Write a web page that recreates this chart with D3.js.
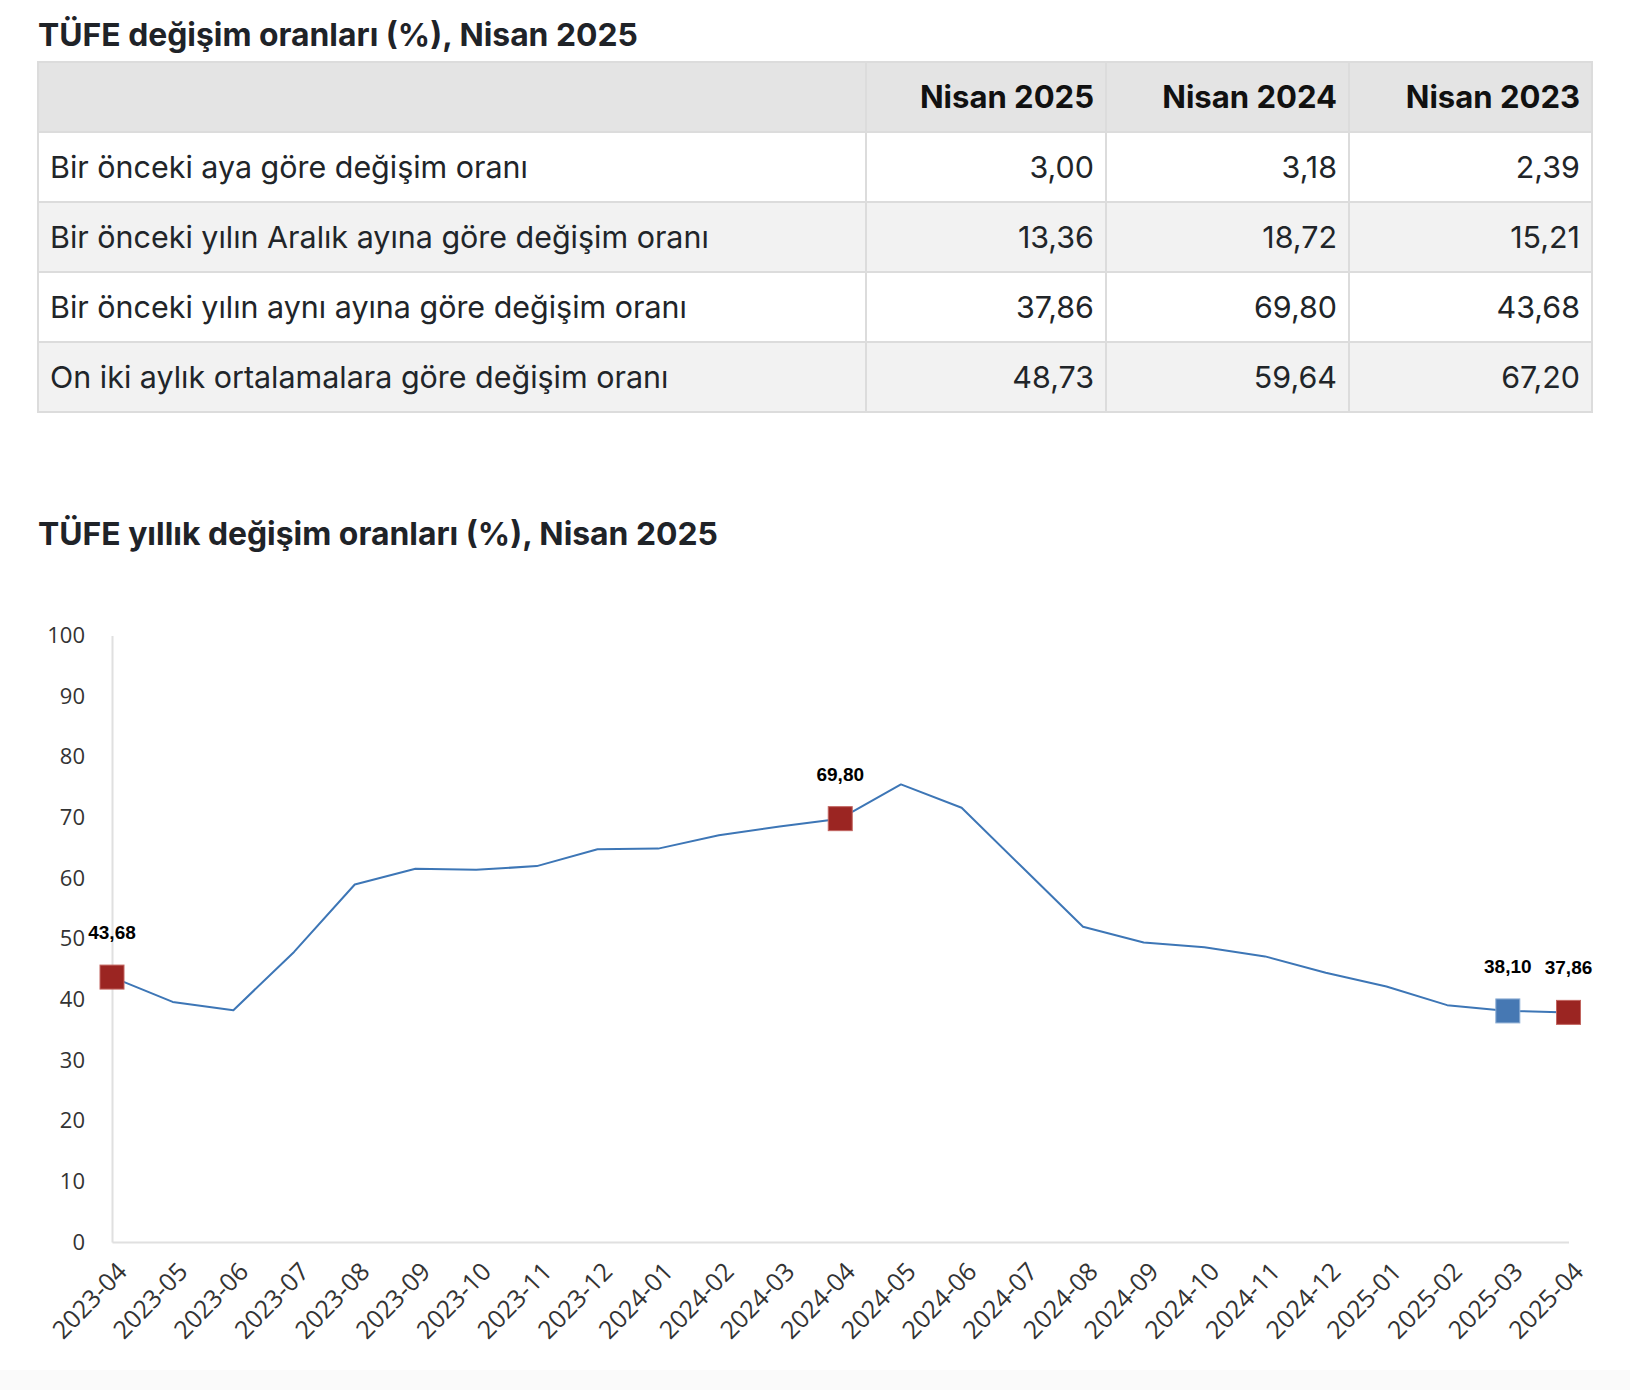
<!DOCTYPE html>
<html>
<head>
<meta charset="utf-8">
<script src="https://cdn.jsdelivr.net/npm/d3@7"></script>
<style>
  html, body { margin: 0; padding: 0; background: #fff; }
  svg { display: block; }
</style>
</head>
<body>
<script>
// ---------- data ----------
const tableTitle = "TÜFE değişim oranları (%), Nisan 2025";
const tableColumns = ["Nisan 2025", "Nisan 2024", "Nisan 2023"];
const tableRowLabels = [
  "Bir önceki aya göre değişim oranı",
  "Bir önceki yılın Aralık ayına göre değişim oranı",
  "Bir önceki yılın aynı ayına göre değişim oranı",
  "On iki aylık ortalamalara göre değişim oranı"
];
const tableNisan2025 = ["3,00", "13,36", "37,86", "48,73"];
const tableNisan2024 = ["3,18", "18,72", "69,80", "59,64"];
const tableNisan2023 = ["2,39", "15,21", "43,68", "67,20"];

const chartTitle = "TÜFE yıllık değişim oranları (%), Nisan 2025";
const months = ["2023-04","2023-05","2023-06","2023-07","2023-08","2023-09","2023-10","2023-11","2023-12",
  "2024-01","2024-02","2024-03","2024-04","2024-05","2024-06","2024-07","2024-08","2024-09","2024-10",
  "2024-11","2024-12","2025-01","2025-02","2025-03","2025-04"];
const annualRates = [43.68,39.59,38.21,47.83,58.94,61.53,61.36,61.98,64.77,
  64.86,67.07,68.50,69.80,75.45,71.60,61.78,51.97,49.38,48.58,
  47.09,44.38,42.12,39.05,38.10,37.86];
const highlightRed = ["2023-04","2024-04","2025-04"];
const highlightBlue = ["2025-03"];
const yTicks = [0,10,20,30,40,50,60,70,80,90,100];

// ---------- setup ----------
const W = 1630, H = 1390;
const svg = d3.select("body").append("svg").attr("width", W).attr("height", H);
svg.append("rect").attr("width", W).attr("height", H).attr("fill", "#fff");
svg.append("rect").attr("x", 0).attr("y", 1370).attr("width", W).attr("height", 20).attr("fill", "#fafafa");

const uiFont = "Inter, 'Noto Sans', 'DejaVu Sans', sans-serif";

function fitWidth(sel, target) {
  const node = sel.node();
  const fs = parseFloat(sel.attr("font-size"));
  const len = node.getComputedTextLength();
  if (len > 0) sel.attr("font-size", (fs * target / len).toFixed(2));
}

// ---------- table ----------
const t1 = svg.append("text").attr("x", 38).attr("y", 46)
  .attr("font-family", uiFont).attr("font-weight", 700).attr("font-size", 26)
  .attr("fill", "#1f2328").text(tableTitle);
fitWidth(t1, 600);

const colEdges = [38, 866, 1106, 1349, 1592];
const rowBand = d3.scaleBand().domain(["__header", ...tableRowLabels]).range([62, 412]);
const colVals = [tableNisan2025, tableNisan2024, tableNisan2023];

const tbl = svg.append("g");
const rowKeys = ["__header", ...tableRowLabels];
rowKeys.forEach((rk, ri) => {
  const y0 = rowBand(rk), h = rowBand.bandwidth();
  const fill = ri === 0 ? "#e4e4e4" : (ri % 2 === 1 ? "#ffffff" : "#f2f2f2");
  for (let c = 0; c < 4; c++) {
    tbl.append("rect").attr("x", colEdges[c]).attr("y", y0)
      .attr("width", colEdges[c+1] - colEdges[c]).attr("height", h)
      .attr("fill", fill).attr("stroke", "#dcdcdc").attr("stroke-width", 2);
  }
});
const labelSel = [];
tableRowLabels.forEach((lab, i) => {
  const yc = rowBand(lab) + rowBand.bandwidth() / 2;
  labelSel.push(tbl.append("text").attr("x", colEdges[0] + 12).attr("y", yc)
    .attr("dy", "0.36em").attr("font-family", uiFont).attr("font-size", 28)
    .attr("fill", "#212529").text(lab));
  colVals.forEach((vals, c) => {
    tbl.append("text").attr("class", "num").attr("x", colEdges[c+2] - 12).attr("y", yc)
      .attr("dy", "0.36em").attr("text-anchor", "end")
      .attr("font-family", uiFont).attr("font-size", 28)
      .attr("fill", "#212529").text(vals[i]);
  });
});
tableColumns.forEach((col, c) => {
  const yc = rowBand("__header") + rowBand.bandwidth() / 2;
  tbl.append("text").attr("class", "hdr").attr("x", colEdges[c+2] - 12).attr("y", yc)
    .attr("dy", "0.36em").attr("text-anchor", "end")
    .attr("font-family", uiFont).attr("font-weight", 700).attr("font-size", 28)
    .attr("fill", "#111").text(col);
});
{
  const s = labelSel[1];
  const fs = parseFloat(s.attr("font-size"));
  const k = 659 / s.node().getComputedTextLength();
  const nfs = (fs * k).toFixed(2);
  tbl.selectAll("text").attr("font-size", nfs);
  tbl.selectAll("text.hdr").attr("font-size", (nfs * 1.02).toFixed(2));
}

// ---------- chart ----------
const t2 = svg.append("text").attr("x", 38).attr("y", 545)
  .attr("font-family", uiFont).attr("font-weight", 700).attr("font-size", 26)
  .attr("fill", "#1f2328").text(chartTitle);
fitWidth(t2, 680);

const x = d3.scalePoint().domain(months).range([112, 1568.5]);
const y = d3.scaleLinear().domain([0, 100]).range([1242, 635.5]);

const axisFont = "'Open Sans', 'Noto Sans', sans-serif";

const gy = svg.append("g").attr("transform", "translate(112,0)")
  .call(d3.axisLeft(y).tickValues(yTicks).tickSize(0).tickSizeOuter(0).tickPadding(27));
gy.select(".domain").attr("stroke", "#e0e0e0").attr("stroke-width", 2);
gy.selectAll("text").attr("font-family", axisFont).attr("font-size", 22).attr("fill", "#333");

const gx = svg.append("g").attr("transform", "translate(0,1242)")
  .call(d3.axisBottom(x).tickSize(0).tickSizeOuter(0));
gx.select(".domain").attr("stroke", "#e0e0e0").attr("stroke-width", 2);
gx.selectAll(".tick text")
  .attr("font-family", axisFont).attr("font-size", 25).attr("fill", "#333")
  .attr("text-anchor", "end").attr("dy", null).attr("y", null)
  .attr("transform", "translate(16,31) rotate(-46)");

const data = months.map((m, i) => ({ m, v: annualRates[i] }));

svg.append("path").datum(data)
  .attr("fill", "none").attr("stroke", "#3d76b6").attr("stroke-width", 2)
  .attr("stroke-linejoin", "round")
  .attr("d", d3.line().x(d => x(d.m)).y(d => y(d.v)));

const hl = data.filter(d => highlightRed.includes(d.m) || highlightBlue.includes(d.m));
const sq = 24;
svg.append("g").selectAll("rect").data(hl).join("rect")
  .attr("x", d => x(d.m) - sq / 2).attr("y", d => y(d.v) - sq / 2)
  .attr("width", sq).attr("height", sq)
  .attr("fill", d => highlightRed.includes(d.m) ? "#9b2522" : "#4678b3")
  .attr("stroke", d => highlightRed.includes(d.m) ? "#c26560" : "#8eaed4")
  .attr("stroke-width", 1);

svg.append("g").selectAll("text").data(hl).join("text")
  .attr("x", d => x(d.m)).attr("y", d => y(d.v) - 38)
  .attr("text-anchor", "middle")
  .attr("font-family", "'Liberation Sans', Arial, sans-serif").attr("font-weight", 700)
  .attr("font-size", 19).attr("fill", "#000")
  .text(d => d.v.toFixed(2).replace(".", ","));
</script>
</body>
</html>
